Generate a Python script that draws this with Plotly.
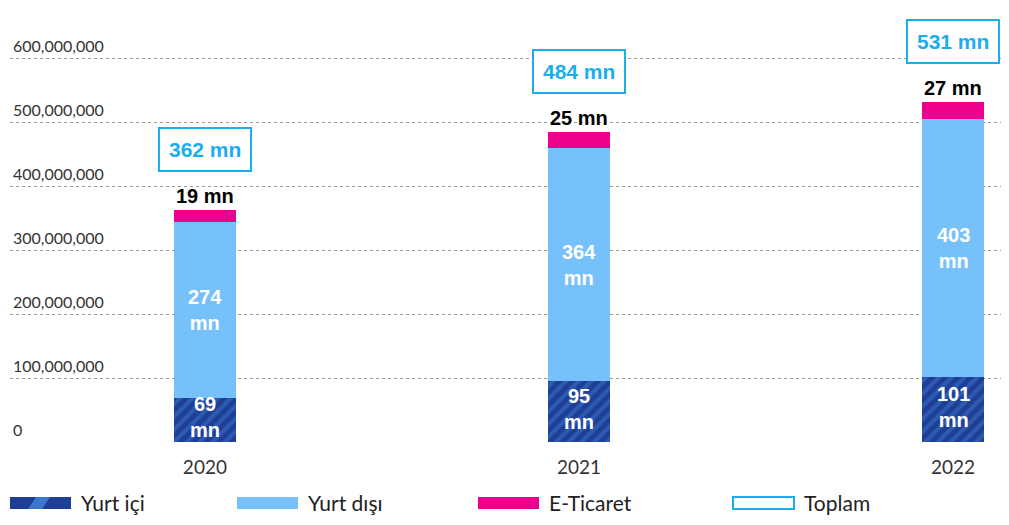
import plotly.graph_objects as go

years = ["2020", "2021", "2022"]
yurt_ici = [69e6, 95e6, 101e6]
yurt_disi = [274e6, 364e6, 403e6]
e_ticaret = [19e6, 25e6, 27e6]
toplam = [362e6, 484e6, 531e6]
y_ticks = [0, 100e6, 200e6, 300e6, 400e6, 500e6, 600e6]
y_tick_text = ["0", "100,000,000", "200,000,000", "300,000,000",
               "400,000,000", "500,000,000", "600,000,000"]
legend_names = ["Yurt içi", "Yurt dışı", "E-Ticaret", "Toplam"]

NAVY = "#1F3E95"
STRIPE = "#3B78CC"
LIGHT = "#77C1FB"
PINK = "#EC008C"
CYAN = "#1AAEEF"
BAR_W = 0.166

# page has an 8px body margin, so the figure is a bit smaller than the window
W, H = 993, 509
L, R, T, B = 10, 1001, 8, 442   # plot area in page pixels

fig = go.Figure()
fig.add_trace(go.Bar(
    x=years, y=yurt_ici, name="Yurt içi", width=BAR_W,
    marker=dict(color=NAVY, line_width=0,
                pattern=dict(shape="/", fgcolor=STRIPE, bgcolor=NAVY,
                             size=9, solidity=0.45)),
))
fig.add_trace(go.Bar(x=years, y=yurt_disi, name="Yurt dışı", width=BAR_W,
                     marker=dict(color=LIGHT, line_width=0)))
fig.add_trace(go.Bar(x=years, y=e_ticaret, name="E-Ticaret", width=BAR_W,
                     marker=dict(color=PINK, line_width=0)))

label_font = dict(family="Liberation Sans", size=20, color="white")
for i, (a, b, c, t) in enumerate(zip(yurt_ici, yurt_disi, e_ticaret, toplam)):
    fig.add_annotation(x=i, y=a / 2, text="<b>%d<br>mn</b>" % round(a / 1e6),
                       showarrow=False, font=label_font, yshift=3)
    fig.add_annotation(x=i, y=a + b / 2, text="<b>%d<br>mn</b>" % round(b / 1e6),
                       showarrow=False, font=label_font)
    fig.add_annotation(x=i, y=a + b + c, yanchor="bottom", yshift=1,
                       text="<b>%d mn</b>" % round(c / 1e6), showarrow=False,
                       font=dict(family="Liberation Sans", size=20, color="black"))
    fig.add_annotation(x=i, y=a + b + c, yanchor="bottom", yshift=38,
                       text="<b>%d mn</b>" % round(t / 1e6), showarrow=False,
                       font=dict(family="Liberation Sans", size=21, color=CYAN),
                       bordercolor=CYAN, borderwidth=2, borderpad=9, bgcolor="white")


def px(x):
    return (x - L) / (R - L)


def py(y):
    return (B - y) / (B - T)


# legend drawn by hand (wide swatches)
swatches = [
    dict(fillcolor=NAVY, line_width=0),
    dict(fillcolor=LIGHT, line_width=0),
    dict(fillcolor=PINK, line_width=0),
    dict(fillcolor="white", line=dict(color=CYAN, width=2)),
]
leg_x = [10, 237, 478, 733]
LEG_Y = 503
for name, x0, style in zip(legend_names, leg_x, swatches):
    fig.add_shape(type="rect", xref="paper", yref="paper",
                  x0=px(x0), x1=px(x0 + 61), y0=py(LEG_Y + 6), y1=py(LEG_Y - 6), **style)
    fig.add_annotation(xref="paper", yref="paper", x=px(x0 + 69), y=py(LEG_Y - 1),
                       xanchor="left", yanchor="middle", text=name, showarrow=False,
                       font=dict(family="Lato", size=21, color="#222"))
# stripe hint on the patterned swatch
fig.add_shape(type="path", xref="paper", yref="paper",
              path="M %f,%f L %f,%f L %f,%f L %f,%f Z" % (
                  px(28), py(LEG_Y + 6), px(36), py(LEG_Y - 6),
                  px(50), py(LEG_Y - 6), px(42), py(LEG_Y + 6)),
              fillcolor=STRIPE, line_width=0)

fig.update_layout(
    barmode="stack", width=W, height=H,
    margin=dict(l=L - 8, r=W - (R - 8), t=T - 8, b=H - (B - 8)),
    plot_bgcolor="white", paper_bgcolor="white", showlegend=False,
    font=dict(family="Lato", color="#333"),
    xaxis=dict(type="category", range=[-0.521, 2.128], showgrid=False,
               zeroline=False, showline=False, ticks="", ticklabelstandoff=12,
               tickfont=dict(size=19, color="#333")),
    yaxis=dict(range=[0, (B - T) / 0.64 * 1e6], tickvals=y_ticks, ticktext=y_tick_text,
               ticklabelposition="inside top", showgrid=True, gridcolor="#999",
               griddash="dot", gridwidth=1, zeroline=False, showline=False,
               tickfont=dict(size=16, color="#333")),
)

fig.write_html("out.html")
